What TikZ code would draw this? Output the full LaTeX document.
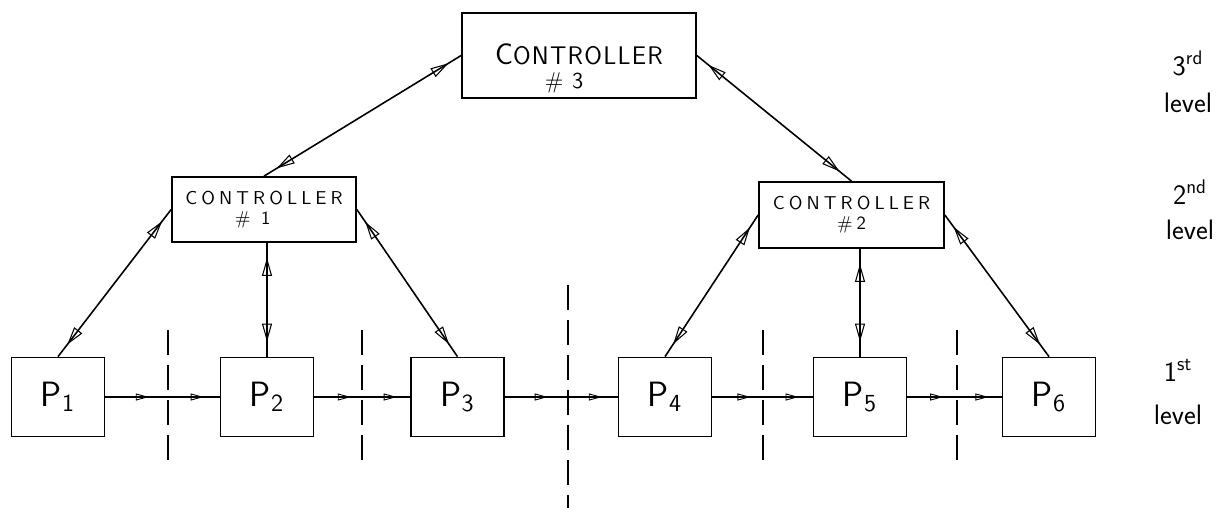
\documentclass[tikz,border=0pt]{standalone}
\usepackage{fontspec}
\usepackage{tikz}
\usetikzlibrary{arrows.meta,decorations.markings}
\newfontfamily\ctrlfont{Latin Modern Sans}[LetterSpace=22]
\newfontfamily\topfont{Latin Modern Sans}[LetterSpace=5]

\tikzset{
  bihead/.tip={Triangle[open, length=0.36cm, width=0.2cm, line width=0.6pt]},
  flowhead/.tip={Triangle[open, length=0.26cm, width=0.14cm, line width=0.5pt]},
  ctrl/.style={draw, line width=1pt, inner sep=0pt, align=center,
    font=\ctrlfont\fontsize{10.6}{11.5}\selectfont},
  proc/.style={draw, line width=1pt, minimum width=1.86cm, minimum height=1.58cm,
    inner sep=0pt, font=\sffamily\fontsize{20}{22}\selectfont},
  lvl/.style={align=center, inner sep=0pt},
  bilink/.style={line width=0.9pt, postaction={decorate}, decoration={markings,
      mark=at position 0.3cm with {\arrowreversed{bihead}},
      mark=at position -0.3cm with {\arrow{bihead}}}},
  flow/.style={line width=0.7pt, postaction={decorate}, decoration={markings,
      mark=at position 0.38 with {\arrow{flowhead}},
      mark=at position 0.86 with {\arrow{flowhead}}}},
  cut/.style={line width=0.8pt, dash pattern=on 0.5cm off 0.2cm},
}

\begin{document}
\begin{tikzpicture}[x=0.02cm,y=-0.02cm]
  \useasboundingbox (0,0) rectangle (1232,508);

  % controllers
  \node[ctrl, minimum width=4.68cm, minimum height=1.7cm] (c3) at (579,55.5) {};
  \node[align=center, inner sep=0pt, font=\topfont\fontsize{14.5}{13.6}\selectfont]
    (c3txt) at ([yshift=-0.25cm]c3.center)
    {{\fontsize{17}{13.6}\selectfont C}ONTROLLER\\{\fontsize{13}{13}\selectfont\# 3}\hspace*{0.6cm}};
  \node[ctrl, minimum width=3.68cm, minimum height=1.3cm] (c1) at (264,209.5)
    {CONTROLLER\\\# 1\hspace*{0.45cm}};
  \node[ctrl, minimum width=3.7cm, minimum height=1.32cm] (c2) at (851.5,215)
    {CONTROLLER\\\#2};

  % processes
  \node[proc] (p1) at (58,397) {P\textsubscript{1}};
  \node[proc] (p2) at (267,397) {P\textsubscript{2}};
  \node[proc] (p3) at (457.5,397) {P\textsubscript{3}};
  \node[proc] (p4) at (665,397) {P\textsubscript{4}};
  \node[proc] (p5) at (860,397) {P\textsubscript{5}};
  \node[proc] (p6) at (1049,397) {P\textsubscript{6}};

  % level labels
  \node[lvl, font=\sffamily\fontsize{16}{21}\selectfont] (l3) at (1188,82) {3\textsuperscript{rd}\\level};
  \node[lvl, font=\sffamily\fontsize{16}{20}\selectfont] (l2) at (1190,210) {2\textsuperscript{nd}\\level};
  \node[lvl, font=\sffamily\fontsize{16}{24.4}\selectfont] (l1) at (1178,392) {1\textsuperscript{st}\\level};

  % boundaries
  \foreach \x in {168,362,763,957}
    \draw[cut] (\x,330) -- (\x,462);
  \draw[cut] (568,285) -- (568,508);

  % links
  \draw[bilink] (c3.west) -- (c1.north);
  \draw[bilink] (c3.east) -- (c2.north);
  \draw[bilink] (c1.west) -- (p1.north);
  \draw[bilink] (p2.north |- c1.south) -- (p2.north);
  \draw[bilink] (c1.east) -- (p3.north);
  \draw[bilink] (c2.west) -- (p4.north);
  \draw[bilink] (p5.north |- c2.south) -- (p5.north);
  \draw[bilink] (c2.east) -- (p6.north);
  \foreach \a/\b in {p1/p2,p2/p3,p3/p4,p4/p5,p5/p6}
    \draw[flow] (\a.east) -- (\b.west);
\end{tikzpicture}
\end{document}
